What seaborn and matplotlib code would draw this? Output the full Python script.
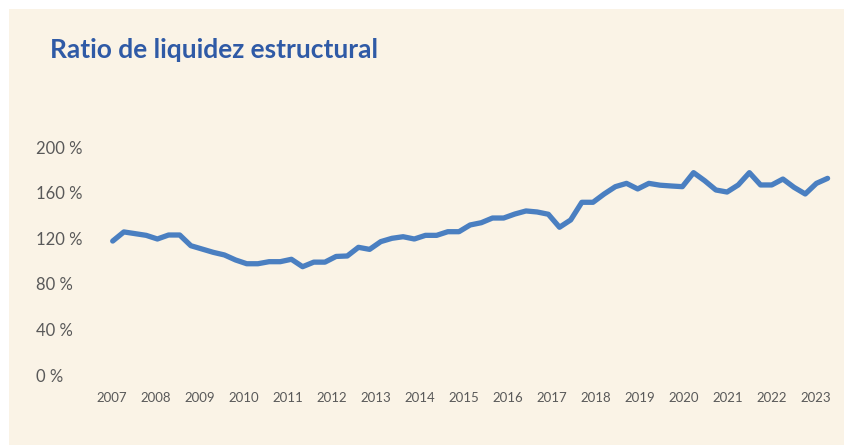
import numpy as np
import matplotlib
matplotlib.use("Agg")
import matplotlib.pyplot as plt
import seaborn as sns
from matplotlib.patches import Rectangle

# --- datos (ratio trimestral, %) ---
ratio = [117.5, 125.5, 124.0, 122.5, 119.3, 122.8, 122.8, 113.4,
         110.5, 107.6, 105.3, 100.9, 97.6, 97.6, 99.4, 99.4,
         101.5, 95.0, 99.0, 99.0, 104.0, 104.4, 112.0, 110.2,
         117.0, 119.9, 121.3, 119.3, 122.5, 122.5, 125.7, 125.7,
         131.6, 133.6, 137.7, 137.7, 141.2, 143.9, 143.0, 141.0,
         129.6, 136.0, 151.5, 151.5, 158.8, 165.2, 168.1, 163.2,
         168.1, 166.5, 165.8, 165.2, 177.5, 170.4, 162.3, 160.5,
         166.7, 177.5, 166.7, 166.7, 171.9, 164.6, 158.8, 168.1, 172.5]
trimestre = np.arange(len(ratio))
anios = [str(a) for a in range(2007, 2024)]
y_ticks = [0, 40, 80, 120, 160, 200]

fondo = "#FAF3E6"
azul = "#4A7FC1"
gris = "#595959"

sns.set_theme(style="white")
plt.rcParams["font.family"] = ["Lato", "DejaVu Sans"]

W, H = 844, 445
fig = plt.figure(figsize=(W / 100, H / 100), dpi=100, facecolor="white")
# panel crema con borde blanco arriba e izquierda
fig.patches.append(Rectangle((9 / W, 0), 1, 1 - 9 / H, transform=fig.transFigure,
                             facecolor=fondo, edgecolor="none", zorder=-10))

# ejes: x=0 -> 112.7 px, paso 11.17 px; y=0 -> 375 px, 200 -> 147 px
left_px, right_px = 95, 840
ax = fig.add_axes([left_px / W, (H - 375) / H, (right_px - left_px) / W, 228 / H])
ax.set_facecolor("none")

sns.lineplot(x=trimestre, y=ratio, ax=ax, color=azul, linewidth=3.8,
             clip_on=False)

step = 11.17
ax.set_xlim((left_px - 112.7) / step, (right_px - 112.7) / step)
ax.set_ylim(0, 200)

ax.set_yticks(y_ticks)
ax.set_yticklabels([f"{v} %" for v in y_ticks], fontsize=12, color=gris)
for lab in ax.get_yticklabels():
    lab.set_horizontalalignment("left")
ax.tick_params(axis="y", length=0, pad=(left_px - 36) * 0.72)

xt = -0.1 + np.arange(len(anios)) * 3.94
ax.set_xticks(xt)
ax.set_xticklabels(anios, fontsize=9.5, color=gris)
ax.tick_params(axis="x", length=0, pad=12)

ax.set_xlabel("")
ax.set_ylabel("")
sns.despine(ax=ax, left=True, bottom=True)
ax.grid(False)

fig.text(50 / W, 1 - 58 / H, "Ratio de liquidez estructural", fontsize=19,
         fontweight="bold", color="#2F5AA6", ha="left", va="baseline")

fig.savefig("out.png", dpi=100, facecolor="white")
